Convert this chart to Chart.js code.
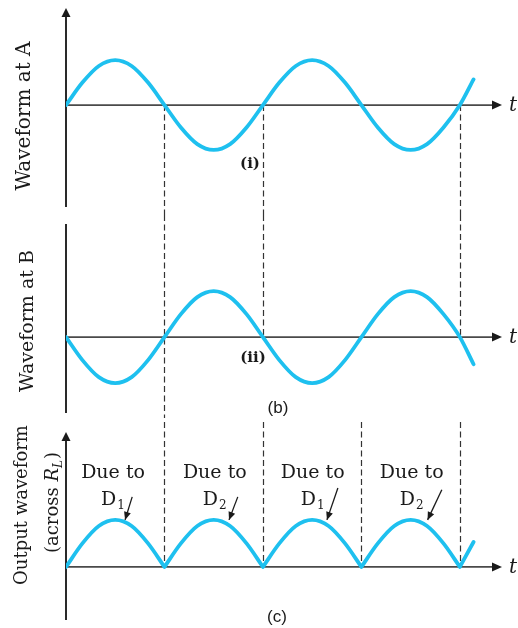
<!DOCTYPE html>
<html>
<head>
<meta charset="utf-8">
<script src="https://cdn.jsdelivr.net/npm/chart.js@4.4.0/dist/chart.umd.min.js"></script>
<style>
  html, body { margin: 0; padding: 0; background: #fff; }
  #wrap { position: relative; width: 518px; height: 628px; overflow: hidden; }
  #wrap canvas { position: absolute; left: 0; }
</style>
</head>
<body>
<div id="wrap">
  <canvas id="panelA" width="518" height="215" style="top:0px"></canvas>
  <canvas id="panelB" width="518" height="203" style="top:215px"></canvas>
  <canvas id="panelC" width="518" height="210" style="top:418px"></canvas>
</div>
<script>
// phase angle of the supply (degrees of wt), shared by the two input waves
var phase = [0, 30, 60, 90, 120, 150, 180, 210, 240, 270, 300, 330, 360,
             390, 420, 450, 480, 510, 540, 570, 600, 630, 660, 690, 720, 745];
// voltage at A and at B (normalised to peak)
var waveA = [0, 0.5, 0.87, 1, 0.87, 0.5, 0, -0.5, -0.87, -1, -0.87, -0.5, 0,
             0.5, 0.87, 1, 0.87, 0.5, 0, -0.5, -0.87, -1, -0.87, -0.5, 0, 0.57];
var waveB = [0, -0.5, -0.87, -1, -0.87, -0.5, 0, 0.5, 0.87, 1, 0.87, 0.5, 0,
             -0.5, -0.87, -1, -0.87, -0.5, 0, 0.5, 0.87, 1, 0.87, 0.5, 0, -0.59];
// output across RL, one hump per half cycle (null = break at the cusp)
var phaseOut = [0, 30, 60, 90, 120, 150, 180, 180,
                180, 210, 240, 270, 300, 330, 360, 360,
                360, 390, 420, 450, 480, 510, 540, 540,
                540, 570, 600, 630, 660, 690, 720, 720,
                720, 745];
var waveOut = [0, 0.5, 0.87, 1, 0.87, 0.5, 0, null,
               0, 0.5, 0.87, 1, 0.87, 0.5, 0, null,
               0, 0.5, 0.87, 1, 0.87, 0.5, 0, null,
               0, 0.5, 0.87, 1, 0.87, 0.5, 0, null,
               0, 0.53];
// which diode conducts in each half cycle
var halfCentre = [86, 272, 451, 632];
var diodes = ["1", "2", "1", "2"];
var arrowTail = [[121, 1.49], [314, 1.49], [497, 1.68], [687, 1.64]];
var arrowTip = [[108, 1.0], [298, 1.0], [477, 1.0], [661, 1.0]];

var CYAN = "#1ec0ef";
var INK = "#1a1a1a";
var SERIF = "'DejaVu Serif', serif";

function toPoints(xs, ys) {
    return xs.map(function (x, i) { return {x: x, y: ys[i]}; });
}

function vtext(ctx, str, cx, cy, font) {
    ctx.save();
    ctx.translate(cx, cy);
    ctx.rotate(-Math.PI / 2);
    ctx.font = font;
    ctx.textAlign = "center";
    ctx.textBaseline = "middle";
    ctx.fillText(str, 0, 0);
    ctx.restore();
}

function arrowHead(ctx, x0, y0, x1, y1, len, half) {
    var a = Math.atan2(y1 - y0, x1 - x0);
    ctx.beginPath();
    ctx.moveTo(x1, y1);
    ctx.lineTo(x1 - len * Math.cos(a) + half * Math.sin(a), y1 - len * Math.sin(a) - half * Math.cos(a));
    ctx.lineTo(x1 - len * Math.cos(a) - half * Math.sin(a), y1 - len * Math.sin(a) + half * Math.cos(a));
    ctx.closePath();
    ctx.fill();
}

// axes, dashed guides and all the lettering
var deco = {
    id: "deco",
    beforeDatasetsDraw: function (chart, args, opts) {
        var ctx = chart.ctx, xs = chart.scales.x, ys = chart.scales.y, area = chart.chartArea;
        var y0 = ys.getPixelForValue(0);
        var edge = function (e) {
            if (e === "zero") return y0;
            if (e === "bottom") return chart.height;
            return opts.guideTop || 0;
        };
        ctx.save();
        ctx.strokeStyle = "#333";
        ctx.lineWidth = 1.2;
        ctx.setLineDash([6, 3.5]);
        opts.guides.forEach(function (g) {
            var px = Math.round(xs.getPixelForValue(g.at)) + 0.5;
            ctx.beginPath();
            ctx.moveTo(px, edge(g.from));
            ctx.lineTo(px, edge(g.to));
            ctx.stroke();
        });
        ctx.setLineDash([]);
        // vertical axis
        ctx.strokeStyle = "#2a2a2a";
        ctx.fillStyle = "#1a1a1a";
        ctx.lineWidth = 2;
        ctx.beginPath();
        ctx.moveTo(area.left, area.top + (opts.upArrow ? 6 : 0));
        ctx.lineTo(area.left, area.bottom);
        ctx.stroke();
        if (opts.upArrow) arrowHead(ctx, area.left, area.top + 20, area.left, area.top, 9, 4.5);
        // time axis
        ctx.strokeStyle = "#4a4a4a";
        ctx.lineWidth = 1.8;
        ctx.beginPath();
        ctx.moveTo(area.left, y0);
        ctx.lineTo(area.right - 6, y0);
        ctx.stroke();
        ctx.fillStyle = "#1a1a1a";
        arrowHead(ctx, area.right - 20, y0, area.right, y0, 10, 4.5);
        ctx.font = "italic 20px " + SERIF;
        ctx.textAlign = "left";
        ctx.textBaseline = "middle";
        ctx.fillText("t", area.right + 7, y0 + 1);
        ctx.restore();
    },
    afterDraw: function (chart, args, opts) {
        var ctx = chart.ctx;
        ctx.save();
        ctx.fillStyle = INK;
        (opts.vlabels || []).forEach(function (l) { vtext(ctx, l.text, l.x, l.y, l.font); });
        (opts.tags || []).forEach(function (t) {
            ctx.font = t.font;
            ctx.textAlign = "center";
            ctx.textBaseline = "middle";
            ctx.fillText(t.text, t.x, t.y);
        });
        if (opts.rl) opts.rl(ctx);
        if (opts.diodes) opts.diodes(chart, ctx);
        ctx.restore();
    }
};

function panel(id, datasetData, yMin, yMax, pad, decoOpts) {
    return new Chart(document.getElementById(id), {
        type: "line",
        data: {
            datasets: [{
                data: datasetData,
                borderColor: CYAN,
                borderWidth: 3.8,
                pointRadius: 0,
                cubicInterpolationMode: "monotone",
                borderCapStyle: "round",
                borderJoinStyle: "round",
                spanGaps: false
            }]
        },
        options: {
            responsive: false,
            animation: false,
            layout: {padding: pad},
            scales: {
                x: {type: "linear", min: 0, max: 797, display: false},
                y: {type: "linear", min: yMin, max: yMax, display: false}
            },
            plugins: {
                legend: {display: false},
                tooltip: {enabled: false},
                deco: decoOpts
            }
        },
        plugins: [deco]
    });
}

panel("panelA", toPoints(phase, waveA), -2.27, 2.16,
    {left: 66, right: 16, top: 8, bottom: 8},
    {
        upArrow: true,
        guides: [{at: 180, from: "zero", to: "bottom"},
                 {at: 360, from: "zero", to: "bottom"},
                 {at: 720, from: "zero", to: "bottom"}],
        vlabels: [{text: "Waveform at A", x: 25, y: 116, font: "20px " + SERIF}],
        tags: [{text: "(i)", x: 250, y: 164, font: "bold 15px " + SERIF}]
    });

panel("panelB", toPoints(phase, waveB), -1.65, 2.46,
    {left: 66, right: 16, top: 9, bottom: 5},
    {
        upArrow: false,
        guides: [{at: 180, from: "top", to: "bottom"},
                 {at: 360, from: "top", to: "zero"},
                 {at: 720, from: "top", to: "zero"}],
        vlabels: [{text: "Waveform at B", x: 28, y: 106, font: "19px " + SERIF}],
        tags: [{text: "(ii)", x: 253, y: 143, font: "bold 15px " + SERIF},
               {text: "(b)", x: 278, y: 193, font: "17px 'Liberation Sans', sans-serif"}]
    });

panel("panelC", toPoints(phaseOut, waveOut), -1.13, 2.87,
    {left: 66, right: 16, top: 14, bottom: 8},
    {
        upArrow: true,
        guideTop: 4,
        guides: [{at: 180, from: "top", to: "zero"},
                 {at: 360, from: "top", to: "zero"},
                 {at: 540, from: "top", to: "zero"},
                 {at: 720, from: "top", to: "zero"}],
        vlabels: [{text: "Output waveform", x: 22, y: 87, font: "18px " + SERIF}],
        tags: [{text: "(c)", x: 277, y: 199, font: "17px 'Liberation Sans', sans-serif"}],
        rl: function (ctx) {
            // "(across RL)" with an italic R and subscript L
            var f = "18px " + SERIF, fi = "italic 18px " + SERIF, fs = "italic 12px " + SERIF;
            ctx.save();
            ctx.translate(52, 85);
            ctx.rotate(-Math.PI / 2);
            ctx.textBaseline = "alphabetic";
            ctx.textAlign = "left";
            ctx.font = f; var w1 = ctx.measureText("(across ").width, w4 = ctx.measureText(")").width;
            ctx.font = fi; var w2 = ctx.measureText("R").width;
            ctx.font = fs; var w3 = ctx.measureText("L").width;
            var x = -(w1 + w2 + w3 + w4) / 2;
            ctx.font = f; ctx.fillText("(across ", x, 6); x += w1;
            ctx.font = fi; ctx.fillText("R", x, 6); x += w2;
            ctx.font = fs; ctx.fillText("L", x, 10); x += w3 + 1;
            ctx.font = f; ctx.fillText(")", x, 6);
            ctx.restore();
        },
        diodes: function (chart, ctx) {
            var xs = chart.scales.x, ys = chart.scales.y;
            halfCentre.forEach(function (c, i) {
                var cx = xs.getPixelForValue(c);
                ctx.font = "19px " + SERIF;
                ctx.textAlign = "center";
                ctx.textBaseline = "alphabetic";
                ctx.fillText("Due to", cx, ys.getPixelForValue(1.89));
                ctx.font = "19px " + SERIF;
                var wd = ctx.measureText("D").width;
                ctx.font = "12px " + SERIF;
                var ws = ctx.measureText(diodes[i]).width;
                var left = cx - (wd + ws + 1) / 2, base = ys.getPixelForValue(1.32);
                ctx.textAlign = "left";
                ctx.font = "19px " + SERIF;
                ctx.fillText("D", left, base);
                ctx.font = "12px " + SERIF;
                ctx.fillText(diodes[i], left + wd + 1, base + 4);
                // pointer to the hump
                var x0 = xs.getPixelForValue(arrowTail[i][0]), y0 = ys.getPixelForValue(arrowTail[i][1]);
                var x1 = xs.getPixelForValue(arrowTip[i][0]), y1 = ys.getPixelForValue(arrowTip[i][1]);
                ctx.strokeStyle = INK;
                ctx.lineWidth = 1.3;
                ctx.beginPath();
                ctx.moveTo(x0, y0);
                ctx.lineTo(x1, y1);
                ctx.stroke();
                arrowHead(ctx, x0, y0, x1, y1, 8, 3.5);
            });
        }
    });
</script>
</body>
</html>
